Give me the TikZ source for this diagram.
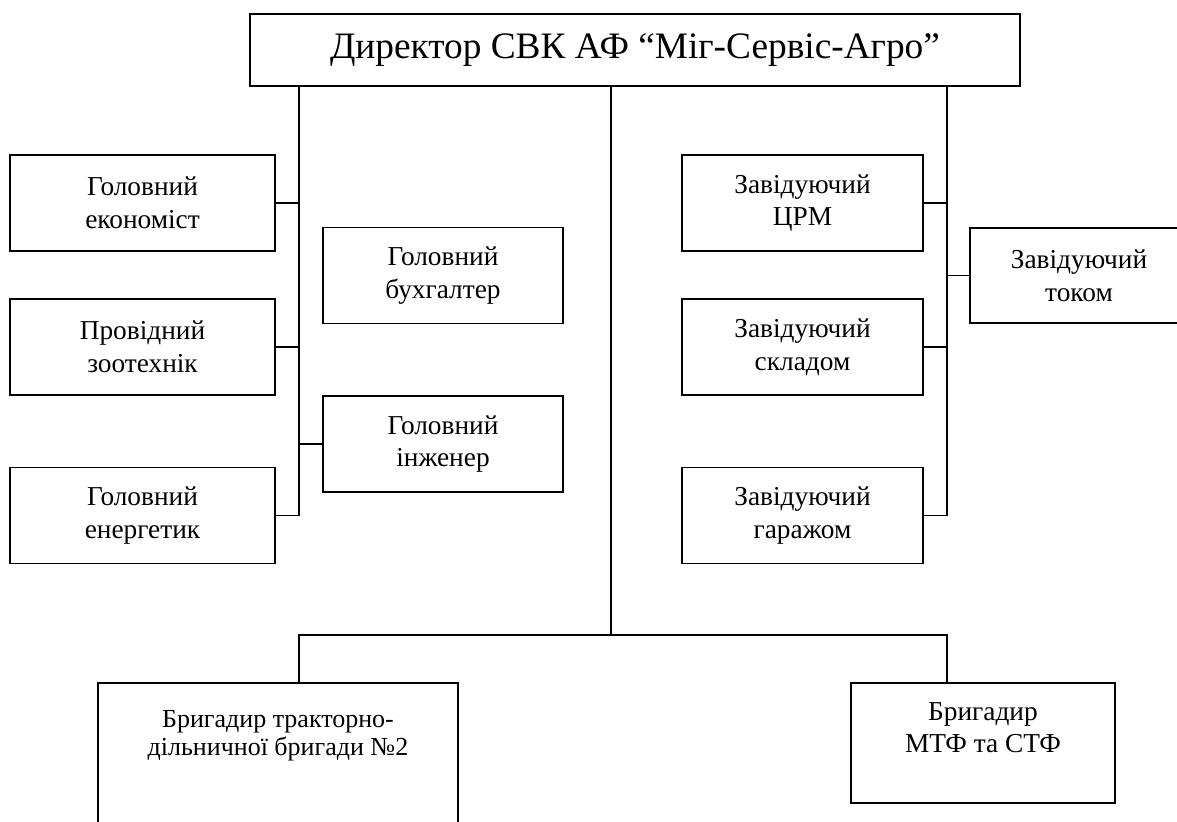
\documentclass[tikz,border=0pt]{standalone}
\usepackage{fontspec}
\setmainfont{Liberation Serif}
\newdimen\pxu
\pxu=0.75pt
\begin{document}
\begin{tikzpicture}[x=0.75pt,y=-0.75pt,
  ln/.style={line width=1.5\pxu, line cap=rect},
  boxfont/.style={font=\fontsize{20.5}{24.5}\selectfont},
  box/.style={draw, line width=1.5\pxu, rectangle, inner sep=0pt, align=center, boxfont},
  sbox/.style={box, minimum width=265\pxu, minimum height=96\pxu},
  mbox/.style={box, minimum width=240\pxu, minimum height=96\pxu},
  rbox/.style={box, minimum width=241\pxu, minimum height=96\pxu},
  txt/.style={inner sep=0pt, align=center, anchor=north}]
\useasboundingbox (0,0) rectangle (1177,821);
\clip (0,0) rectangle (1177,821);
% top
\node[box, minimum width=770\pxu, minimum height=72\pxu, font=\fontsize{28}{33}\selectfont] (dir) at (635,50) {Директор СВК АФ “Міг-Сервіс-Агро”};
% left column
\node[sbox] (econ) at (142.5,203) {Головний\\економіст};
\node[sbox] (zoot) at (142.5,347) {Провідний\\зоотехнік};
\node[sbox] (energ) at (142.5,515.5) {Головний\\енергетик};
% middle column
\node[mbox] (buh) at (443,275.5) {Головний\\бухгалтер};
\node[mbox] (inzh) at (443,444) {Головний\\інженер};
% right column
\node[rbox] (crm) at (802.5,203) {Завідуючий\\ЦРМ};
\node[rbox] (sklad) at (802.5,347) {Завідуючий\\складом};
\node[rbox] (garazh) at (802.5,515.5) {Завідуючий\\гаражом};
\node[box, minimum width=218\pxu, minimum height=95\pxu] (tok) at (1079,275.5) {Завідуючий\\током};
% bottom
\node[box, minimum width=360\pxu, minimum height=180\pxu] (brig) at (278,773) {};
\node[txt, font=\fontsize{19.5}{21.5}\selectfont] (brigt) at (278,710) {Бригадир тракторно-\\дільничної бригади №2};
\node[box, minimum width=264\pxu, minimum height=120\pxu] (mtf) at (983,743) {};
\node[txt, boxfont] (mtft) at (983,702) {Бригадир\\МТФ та СТФ};
% coordinates
\coordinate (lv) at (299,86);
\coordinate (rv) at (947,86);
\coordinate (cv) at (611,86);
\coordinate (hb) at (611,635);
% left trunk
\draw[ln] (lv) -- (lv |- energ.east) -- (energ.east);
\draw[ln] (econ.east) -- (lv |- econ.east);
\draw[ln] (zoot.east) -- (lv |- zoot.east);
\draw[ln] (lv |- inzh.west) -- (inzh.west);
% right trunk
\draw[ln] (rv) -- (rv |- garazh.east) -- (garazh.east);
\draw[ln] (crm.east) -- (rv |- crm.east);
\draw[ln] (sklad.east) -- (rv |- sklad.east);
\draw[ln] (rv |- tok.west) -- (tok.west);
% centre trunk
\draw[ln] (cv) -- (hb);
\draw[ln] (brig.north -| lv) -- (lv |- hb) -- (rv |- hb) -- (mtf.north -| rv);
\end{tikzpicture}
\end{document}
